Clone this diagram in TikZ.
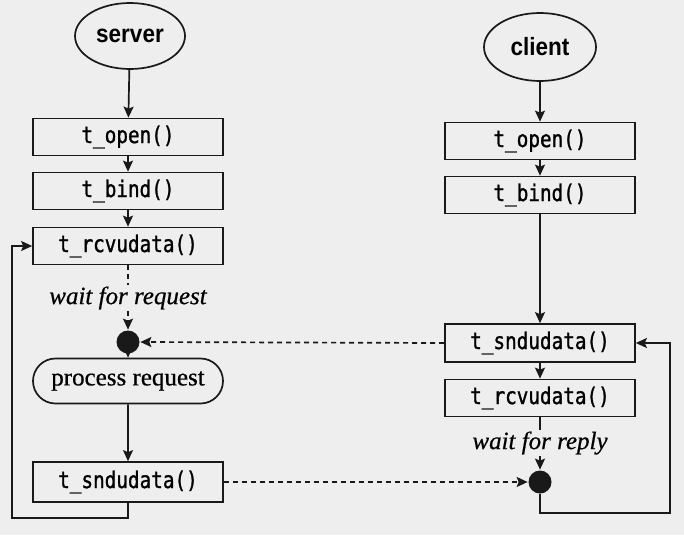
\documentclass[tikz,border=0pt]{standalone}
\usepackage{fontspec}
\setmainfont{Liberation Serif}
\newfontfamily\sfont[FakeBold=0.6]{Liberation Serif}
\newfontfamily\hfont[FakeStretch=0.9]{Liberation Sans}
\newfontfamily\mfont[FakeStretch=0.84,FakeBold=1.2]{DejaVu Sans Mono}
\usetikzlibrary{arrows.meta,shapes.geometric,shapes.misc}
\definecolor{bg}{RGB}{238,238,238}
\definecolor{ink}{RGB}{25,25,25}
\begin{document}
\begin{tikzpicture}[x=1pt,y=-1pt,line width=1.7pt,
  fnbox/.style={draw=ink,rectangle,minimum width=190pt,minimum height=37pt,inner sep=0pt,
    font=\mfont\fontsize{23}{26}\selectfont},
  startnode/.style={draw=ink,ellipse,minimum width=110pt,minimum height=66pt,inner sep=0pt,
    font=\hfont\bfseries\fontsize{25}{29}\selectfont},
  procnode/.style={draw=ink,rounded rectangle,minimum width=190pt,minimum height=45pt,inner sep=0pt,
    font=\sfont\fontsize{25}{29}\selectfont},
  dotnode/.style={circle,fill=ink,draw=none,minimum size=23pt,inner sep=0pt},
  lbl/.style={inner sep=1pt,font=\sfont\itshape\fontsize{25}{29}\selectfont},
  arr/.style={draw=ink,-{Stealth[length=11pt,width=10pt,inset=2pt]}},
  ln/.style={draw=ink},
  dsh/.style={dash pattern=on 5pt off 4pt}]
\fill[bg] (0,0) rectangle (684,535);
\useasboundingbox (0,0) rectangle (684,535);
% server column
\node[startnode] (server) at (130,36) {server};
\node[fnbox] (sopen) at (128,137) {t\_open()};
\node[fnbox] (sbind) at (128,191) {t\_bind()};
\node[fnbox] (srcv) at (128,246) {t\_rcvudata()};
\node[lbl] (swait) at (128,298) {wait for request};
\node[dotnode] (sdot) at (128,342) {};
\node[procnode] (sproc) at (128,381) {process request};
\node[fnbox,minimum height=40pt] (ssnd) at (128,482) {t\_sndudata()};
\coordinate (sloop) at (12,518);
% client column
\node[startnode,minimum width=112pt,minimum height=68pt] (client) at (540,47) {client};
\node[fnbox] (copen) at (540,141) {t\_open()};
\node[fnbox] (cbind) at (540,195) {t\_bind()};
\node[fnbox,minimum height=38pt] (csnd) at (540,343) {t\_sndudata()};
\node[fnbox] (crcv) at (540,398) {t\_rcvudata()};
\node[lbl] (cwait) at (540,443) {wait for reply};
\node[dotnode] (cdot) at (540,482) {};
\coordinate (cloop) at (670,513);
% server connectors
\draw[arr] (server) -- (sopen);
\draw[arr] (sopen) -- (sbind);
\draw[arr] (sbind) -- (srcv);
\draw[ln,dsh] (srcv.south) -- (swait.north);
\draw[arr,dsh] (swait.south) -- (sdot.north);
\draw[arr] (sdot) -- (sproc);
\draw[arr] (sproc) -- (ssnd);
\draw[arr] (ssnd.south) |- (sloop) |- (srcv.west);
% client connectors
\draw[arr] (client) -- (copen);
\draw[arr] (copen) -- (cbind);
\draw[arr] (cbind) -- (csnd);
\draw[arr] (csnd) -- (crcv);
\draw[ln] (crcv.south) -- (cwait.north);
\draw[arr] (cwait.south) -- (cdot.north);
\draw[arr] (cdot.south) |- (cloop) |- (csnd.east);
% messages
\draw[arr,dsh] (csnd.west) -- (sdot.east);
\draw[arr,dsh] (ssnd.east) -- (cdot.west);
\end{tikzpicture}
\end{document}
